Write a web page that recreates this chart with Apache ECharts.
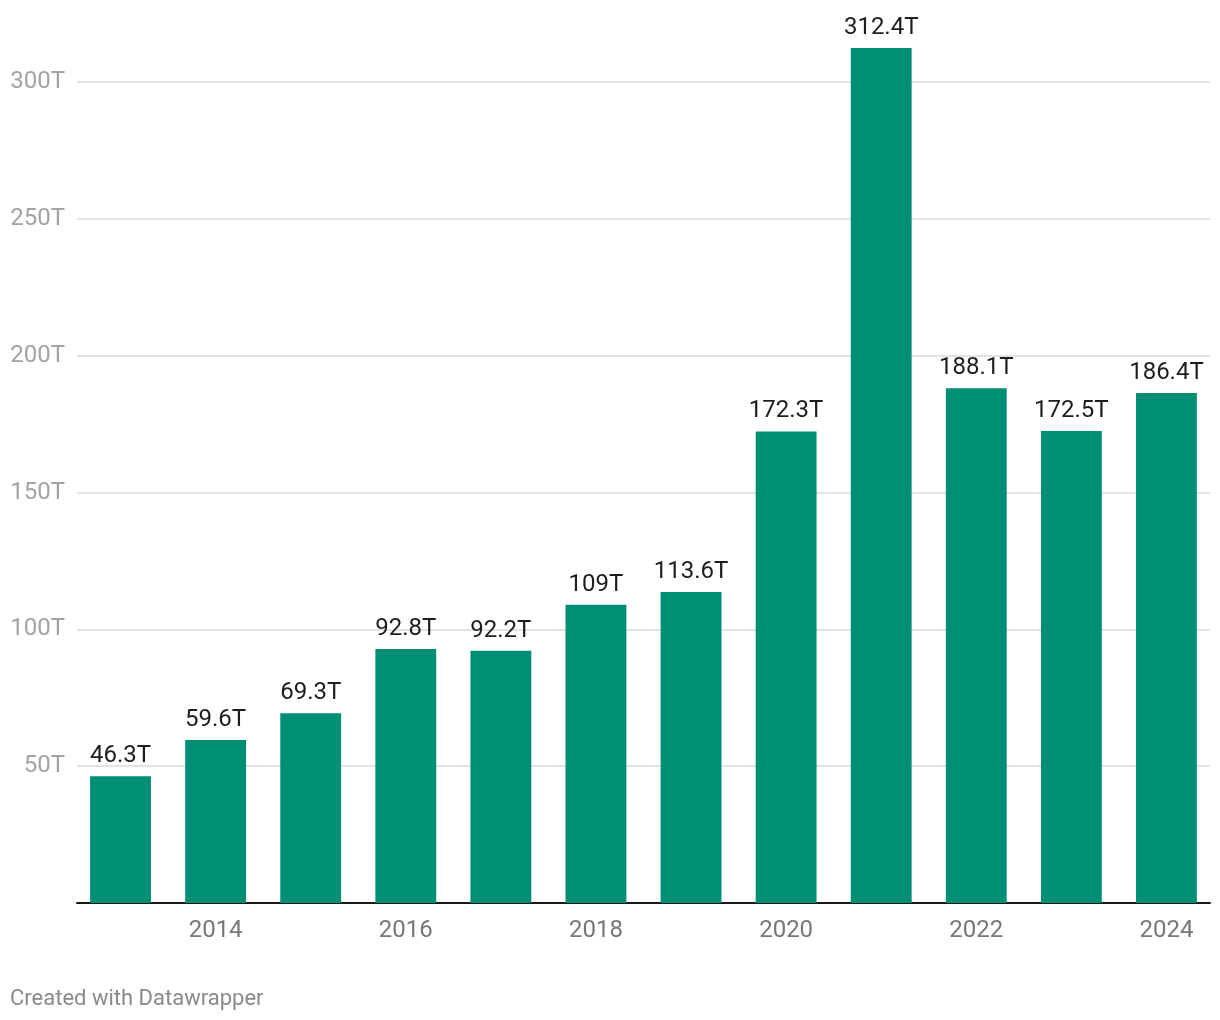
<!DOCTYPE html>
<html>
<head>
<meta charset="utf-8">
<script src="https://cdn.jsdelivr.net/npm/echarts@6/dist/echarts.min.js"></script>
<style>
html,body{margin:0;padding:0;background:#fff;}
#chart{width:1220px;height:1020px;}
</style>
</head>
<body>
<div id="chart"></div>
<script>
const years = ['2013','2014','2015','2016','2017','2018','2019','2020','2021','2022','2023','2024'];
const values = [46.3, 59.6, 69.3, 92.8, 92.2, 109, 113.6, 172.3, 312.4, 188.1, 172.5, 186.4];
const yTicks = [0, 50, 100, 150, 200, 250, 300];
const unit = 'T';
const footer = 'Created with Datawrapper';

const chart = echarts.init(document.getElementById('chart'), null, {renderer: 'canvas'});
const FONT = 'Roboto';
chart.setOption({
  animation: false,
  backgroundColor: '#ffffff',
  textStyle: {fontFamily: FONT},
  graphic: [{
    type: 'text', left: 10, top: 988,
    style: {text: footer, fontFamily: FONT, fontSize: 22, fill: '#8a8a8a'}
  }],
  grid: [
    {left: 77, right: 10, top: 82, bottom: 117},
    {left: 73, right: 6, top: 82, bottom: 117}
  ],
  xAxis: [
    {type: 'value', gridIndex: 0, min: 0, max: 1,
     axisLine: {show: true, onZero: false, lineStyle: {color: '#1a1a1a', width: 2}},
     axisTick: {show: false}, axisLabel: {show: false}, splitLine: {show: false}},
    {type: 'category', gridIndex: 1, data: years,
     axisLine: {show: false}, axisTick: {show: false}, splitLine: {show: false},
     axisLabel: {
       interval: function (index) { return index % 2 === 1; },
       color: '#777777', fontSize: 24, fontFamily: FONT, margin: 16
     }}
  ],
  yAxis: [
    {type: 'value', gridIndex: 0, min: yTicks[0], max: yTicks[yTicks.length - 1], interval: 50,
     axisLine: {show: false}, axisTick: {show: false},
     splitLine: {show: true, lineStyle: {color: '#e3e3e3', width: 2}},
     axisLabel: {
       color: '#a3a3a3', fontSize: 24, fontFamily: FONT, margin: 12,
       formatter: function (v) { return v === 0 ? '' : v + unit; }
     }},
    {type: 'value', gridIndex: 1, min: yTicks[0], max: yTicks[yTicks.length - 1], show: false,
     splitLine: {show: false}}
  ],
  series: [{
    type: 'bar', xAxisIndex: 1, yAxisIndex: 1,
    data: values, clip: false,
    barCategoryGap: '36%',
    itemStyle: {color: '#008f74'},
    label: {
      show: true, position: 'top', distance: 8,
      color: '#1d1d1d', fontSize: 24, fontFamily: FONT,
      formatter: function (p) { return p.value + unit; }
    }
  }]
});
</script>
</body>
</html>
